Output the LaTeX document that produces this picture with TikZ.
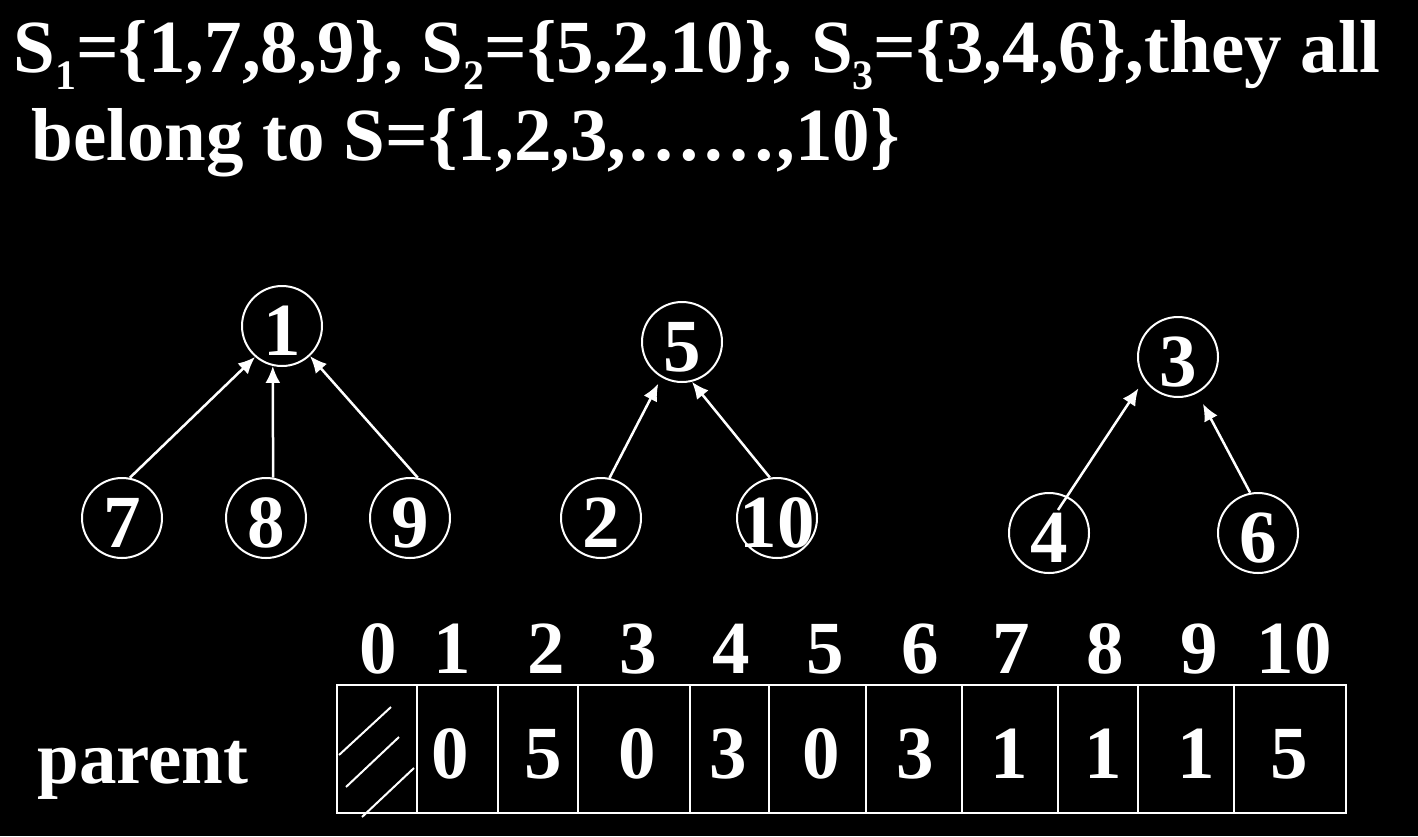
\documentclass[tikz,border=0pt]{standalone}
\usepackage{fontspec}
\setmainfont{Liberation Serif}
\usetikzlibrary{arrows.meta,calc}
\newcommand\subix[1]{\raisebox{-8.5pt}{\fontsize{21}{21}\selectfont #1}}
\newcommand\cz[1]{\makebox[0pt]{\raisebox{-2pt}[25pt][0pt]{#1}}}
\begin{document}
\begin{tikzpicture}[x=0.5pt,y=-0.5pt,
  every node/.style={text=white,font=\fontsize{37.5}{45}\selectfont\bfseries},
  vert/.style={circle,draw=white,line width=1pt,minimum size=40pt,inner sep=0pt},
  link/.style={draw=white,line width=1.25pt,-{Latex[length=8.5pt,width=7.5pt]}},
  grid/.style={draw=white,line width=1pt},
  txt/.style={anchor=base,inner sep=0pt}]
\fill[black] (0,0) rectangle (1418,836);
\useasboundingbox (0,0) rectangle (1418,836);

% title
\node[txt,anchor=base west] (t1) at (13,72) {S\subix{1}=\{1,7,8,9\}, S\subix{2}=\{5,2,10\}, S\subix{3}=\{3,4,6\},they all};
\node[txt,anchor=base west] (t2) at (31,160) {belong to S=\{1,2,3,……,10\}};

% trees
\node[vert] (n1) at (282,326) {\cz{1}};
\node[vert] (n7) at (122,518) {\cz{7}};
\node[vert] (n8) at (266,518) {\cz{8}};
\node[vert] (n9) at (410,518) {\cz{9}};
\node[vert] (n5) at (682,342) {\cz{5}};
\node[vert] (n2) at (601,518) {\cz{2}};
\node[vert] (n10) at (777,518) {\cz{10}};
\node[vert] (n3) at (1178,357) {\cz{3}};
\node[vert] (n4) at (1049,533) {\cz{4}};
\node[vert] (n6) at (1258,533) {\cz{6}};

\draw[link] (n7.79) -- (n1.229);
\draw[link] (n8.80) -- (n1.257);
\draw[link] (n9.79) -- (n1.313);
\draw[link,shorten >=3.5pt] (n2.78) -- (n5.240);
\draw[link] (n10.100) -- (n5.284);
\draw[link,shorten >=5pt] ($(n4.center)+(9,-23)$) -- (n3.214);
\draw[link,shorten >=6pt] (n6.101) -- (n3.298);

% table
\draw[grid] (337,685) rectangle (1346,813);
\foreach \x in {417,498,578,690,769,866,962,1058,1138,1234}
  \draw[grid] (\x,685) -- (\x,813);
\draw[grid] (339,755) -- (391,707);
\draw[grid] (346,787) -- (399,737);
\draw[grid] (362,817) -- (414,768);

\foreach \x/\t [count=\i] in {378/0,452/1,546/2,638/3,731/4,825/5,920/6,1011/7,1105/8,1199/9,1294/10}
  \node[txt] (h\i) at (\x,673) {\t};
\foreach \x/\t [count=\i] in {450/0,543/5,637/0,728/3,821/0,915/3,1009/1,1103/1,1196/1,1289/5}
  \node[txt] (v\i) at (\x,778) {\t};

\node[txt,anchor=base west] (par) at (37,783) {parent};
\end{tikzpicture}
\end{document}
